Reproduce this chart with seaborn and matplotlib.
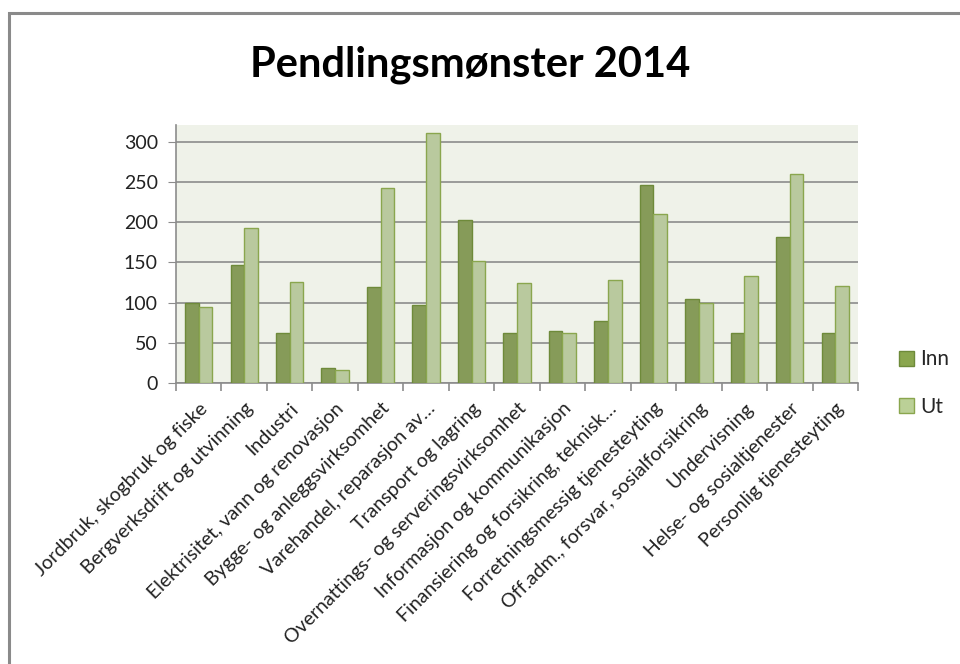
import pandas as pd
import seaborn as sns
import matplotlib.pyplot as plt
from matplotlib.patches import Rectangle
from matplotlib.ticker import FixedLocator

kategorier = [
    "Jordbruk, skogbruk og fiske",
    "Bergverksdrift og utvinning",
    "Industri",
    "Elektrisitet, vann og renovasjon",
    "Bygge- og anleggsvirksomhet",
    "Varehandel, reparasjon av…",
    "Transport og lagring",
    "Overnattings- og serveringsvirksomhet",
    "Informasjon og kommunikasjon",
    "Finansiering og forsikring, teknisk…",
    "Forretningsmessig tjenesteyting",
    "Off.adm., forsvar, sosialforsikring",
    "Undervisning",
    "Helse- og sosialtjenester",
    "Personlig tjenesteyting",
]
inn = [100, 147, 62, 19, 120, 97, 203, 62, 65, 77, 246, 105, 62, 182, 62]
ut = [95, 193, 126, 16, 242, 311, 152, 124, 62, 128, 210, 99, 133, 260, 121]
serier = ["Inn", "Ut"]
yticks = [0, 50, 100, 150, 200, 250, 300]

df = pd.DataFrame({
    "kategori": kategorier * 2,
    "serie": [serier[0]] * len(inn) + [serier[1]] * len(ut),
    "antall": inn + ut,
})

sns.set_style("white")
plt.rcParams["font.family"] = ["Lato", "DejaVu Sans"]

fig = plt.figure(figsize=(9.6, 6.64), dpi=100)
ax = fig.add_axes([176 / 960, 1 - 383 / 664, 682 / 960, 258 / 664])
ax.set_facecolor("#eff2e9")

farger = {"Inn": "#8aa64e", "Ut": "#bbd097"}
kanter = {"Inn": "#6e8a3a", "Ut": "#8aa64e"}
sns.barplot(data=df, x="kategori", y="antall", hue="serie", palette=farger,
            width=0.6, ax=ax, legend=False, zorder=3)
for patch, serie in zip(ax.patches, [s for s in serier for _ in kategorier]):
    patch.set_edgecolor(kanter[serie])
    patch.set_linewidth(1.0)

ax.set_ylim(0, 321)
ax.set_xlim(-0.5, len(kategorier) - 0.5)
ax.set_yticks(yticks)
ax.yaxis.grid(True, color="#8c8c8c", linewidth=1.2, zorder=0)
ax.set_axisbelow(True)
ax.set_xlabel("")
ax.set_ylabel("")

for side in ["top", "right"]:
    ax.spines[side].set_visible(False)
for side in ["left", "bottom"]:
    ax.spines[side].set_color("#8c8c8c")
    ax.spines[side].set_linewidth(1.2)

ax.tick_params(axis="y", which="major", length=6, color="#8c8c8c",
               labelsize=14, labelcolor="#222222", pad=7, left=True)
ax.set_xticks(range(len(kategorier)))
ax.set_xticklabels(kategorier, rotation=45, ha="right", rotation_mode="anchor",
                   fontsize=14, color="#222222")
ax.tick_params(axis="x", which="major", length=0, pad=12)
ax.xaxis.set_minor_locator(FixedLocator([i - 0.5 for i in range(len(kategorier) + 1)]))
ax.tick_params(axis="x", which="minor", length=6, color="#8c8c8c", width=1.2, bottom=True)

handles = [Rectangle((0, 0), 1, 1, facecolor=farger[s], edgecolor=kanter[s]) for s in serier]
fig.legend(handles, serier, loc="center left", bbox_to_anchor=(880 / 960, 1 - 383 / 664),
           frameon=False, fontsize=15, handlelength=0.75, handleheight=0.75,
           handletextpad=0.3, labelspacing=1.3)

fig.text(470 / 960, 1 - 65 / 664, "Pendlingsmønster 2014", ha="center", va="center",
         fontsize=30, fontweight="bold", color="black")

fig.add_artist(Rectangle((9 / 960, -0.1), 1.2, 1.1 - 13 / 664, transform=fig.transFigure,
                         fill=False, edgecolor="#8a8a8a", linewidth=2.2))

fig.savefig("out.png", dpi=100)
